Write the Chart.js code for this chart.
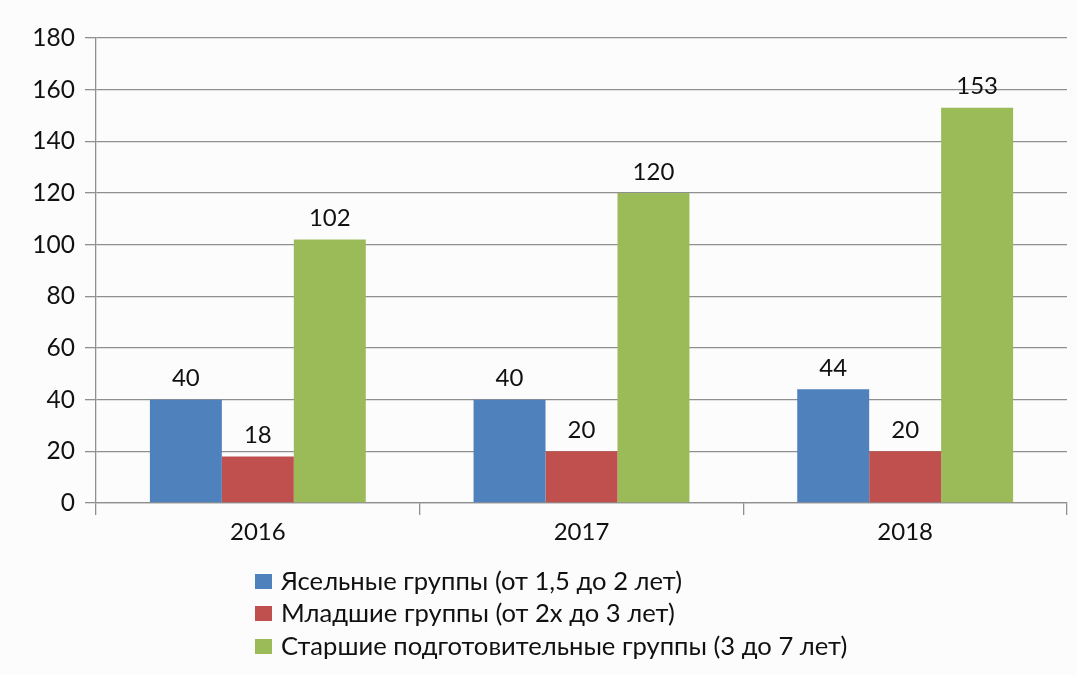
<!DOCTYPE html>
<html><head><meta charset="utf-8">
<script src="https://cdn.jsdelivr.net/npm/chart.js@4.4.0/dist/chart.umd.min.js"></script>
<style>
html,body{margin:0;padding:0;background:#fcfcfc;}
#wrap{width:1077px;height:675px;position:relative;}
</style></head>
<body><div id="wrap"><canvas id="c" width="1077" height="675"></canvas></div>
<script>
const categories = ['2016', '2017', '2018'];
const seriesNames = [
  'Ясельные группы (от 1,5 до 2 лет)',
  'Младшие группы (от 2х до 3 лет)',
  'Старшие подготовительные группы (3 до 7 лет)'
];
const nurseryValues = [40, 40, 44];
const juniorValues = [18, 20, 20];
const seniorValues = [102, 120, 153];
const seriesColors = ['#4f81bd', '#c0504d', '#9bbb59'];
const yTicks = [0, 20, 40, 60, 80, 100, 120, 140, 160, 180];

const FONT = 'Lato, "DejaVu Sans", sans-serif';

const labelPlugin = {
  id: 'valueLabels',
  afterDatasetsDraw(chart) {
    const ctx = chart.ctx;
    ctx.save();
    ctx.font = '24px ' + FONT;
    ctx.fillStyle = '#111';
    ctx.textAlign = 'center';
    ctx.textBaseline = 'middle';
    chart.data.datasets.forEach((ds, i) => {
      const meta = chart.getDatasetMeta(i);
      meta.data.forEach((bar, j) => {
        ctx.fillText(String(ds.data[j]), bar.x, bar.y - 21);
      });
    });
    ctx.restore();
  }
};

const legendPlugin = {
  id: 'leftLegend',
  afterDraw(chart) {
    const ctx = chart.ctx;
    ctx.save();
    ctx.font = '25.6px ' + FONT;
    ctx.textBaseline = 'middle';
    ctx.textAlign = 'left';
    const x0 = 255, y0 = 580.5, step = 32.5;
    chart.data.datasets.forEach((ds, i) => {
      const y = Math.round(y0 + i * step);
      ctx.fillStyle = ds.backgroundColor;
      ctx.fillRect(x0, y - 7, 17, 15);
      ctx.fillStyle = '#111';
      ctx.fillText(ds.label, x0 + 26, y + 1);
    });
    ctx.restore();
  }
};

new Chart(document.getElementById('c'), {
  type: 'bar',
  data: {
    labels: categories,
    datasets: [
      { label: seriesNames[0], data: nurseryValues, backgroundColor: seriesColors[0] },
      { label: seriesNames[1], data: juniorValues, backgroundColor: seriesColors[1] },
      { label: seriesNames[2], data: seniorValues, backgroundColor: seriesColors[2] }
    ]
  },
  options: {
    responsive: false,
    animation: false,
    devicePixelRatio: 1,
    layout: { padding: { top: 38, right: 10, bottom: 122, left: 0 } },
    datasets: { bar: { categoryPercentage: 0.667, barPercentage: 1.0 } },
    plugins: { legend: { display: false }, tooltip: { enabled: false } },
    scales: {
      x: {
        afterFit(s) { s.height = 50; },
        grid: { offset: true, drawOnChartArea: false, color: '#8f8f8f', lineWidth: 1.3, tickLength: 12 },
        border: { color: '#8f8f8f', width: 1.3 },
        ticks: { color: '#111', font: { family: FONT, size: 24 }, padding: 3 }
      },
      y: {
        min: 0, max: 180,
        afterFit(s) { s.width = 96; },
        afterBuildTicks(s) { s.ticks = yTicks.map(v => ({ value: v })); },
        grid: { color: '#8f8f8f', lineWidth: 1.3, tickLength: 11 },
        border: { color: '#8f8f8f', width: 1.3 },
        ticks: { color: '#111', font: { family: FONT, size: 24.5 }, padding: 10 }
      }
    }
  },
  plugins: [labelPlugin, legendPlugin]
});
</script></body></html>
